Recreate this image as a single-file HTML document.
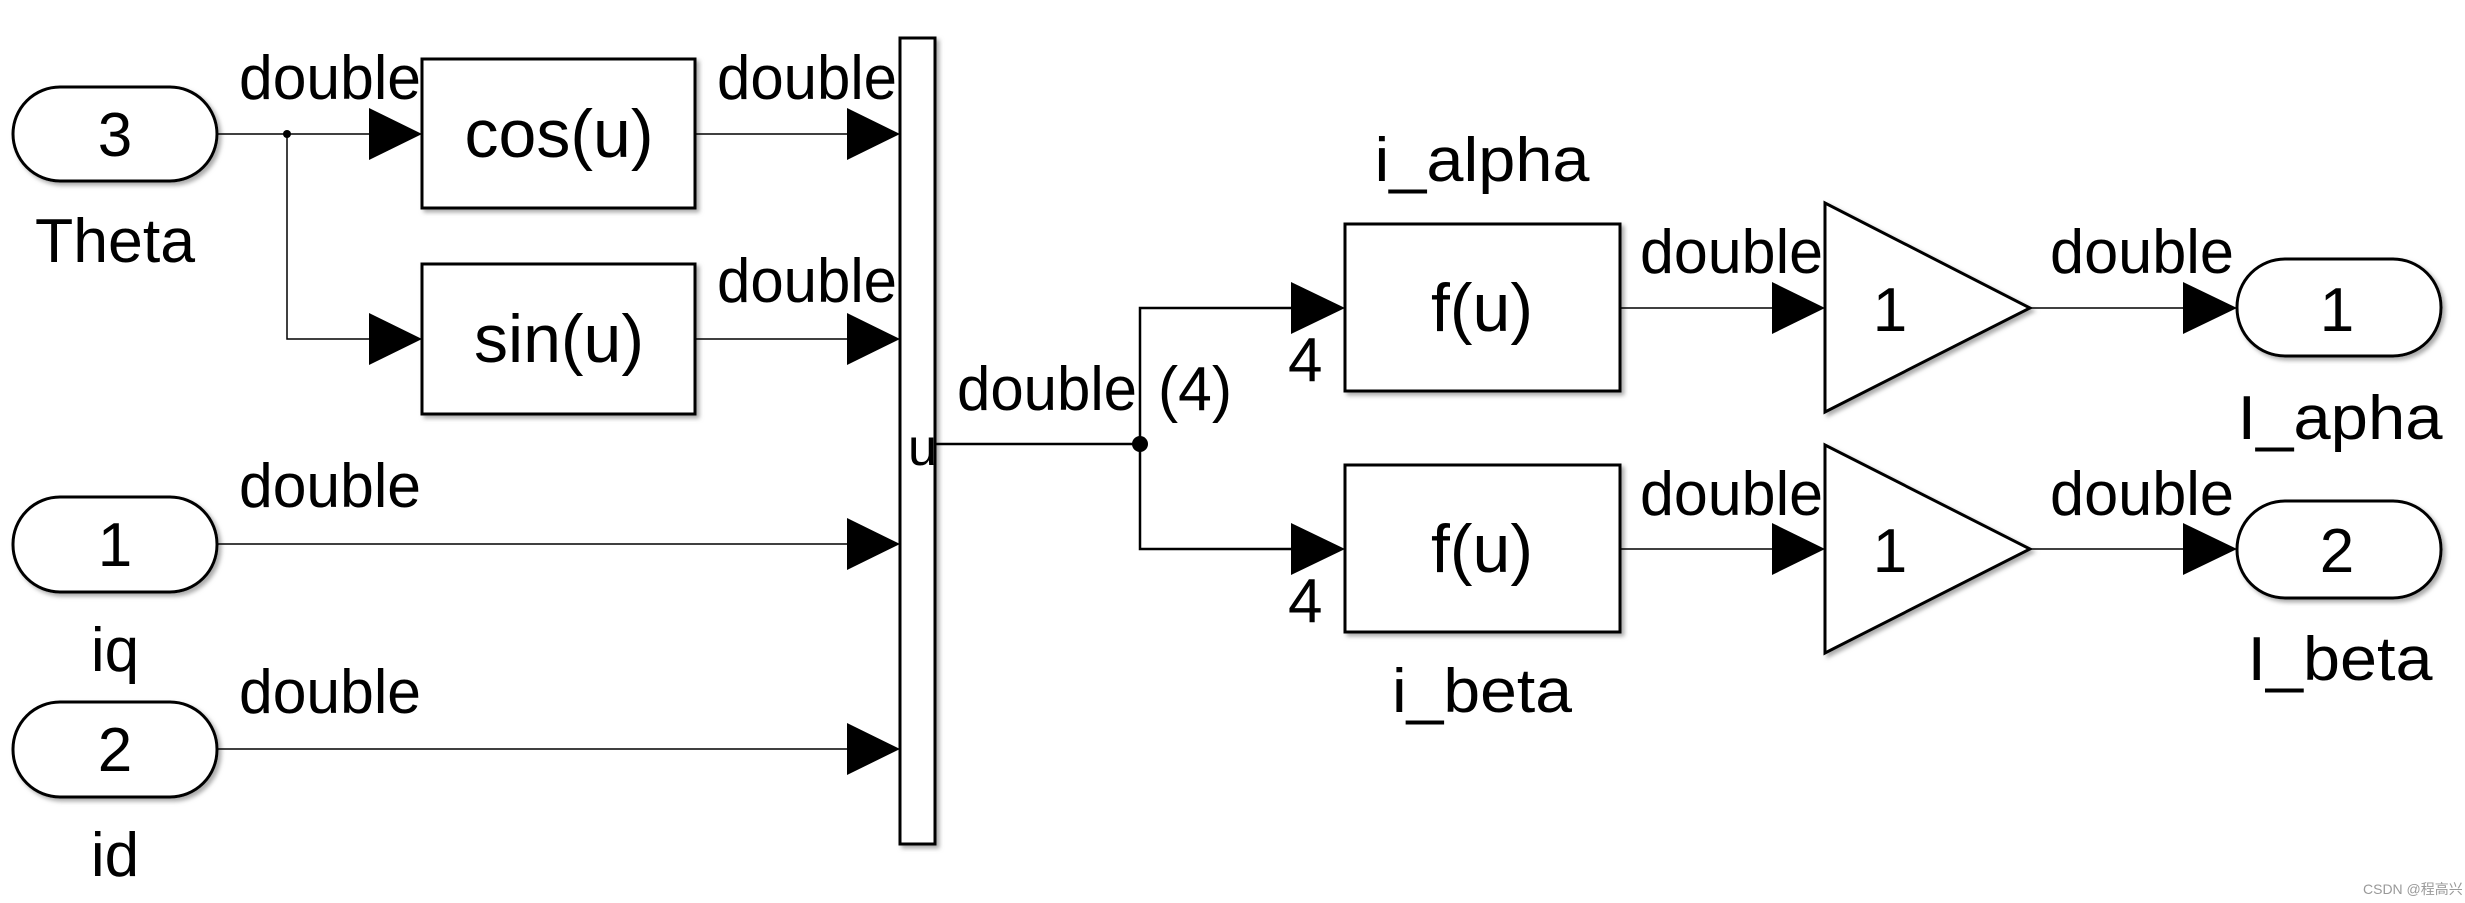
<!DOCTYPE html>
<html><head><meta charset="utf-8"><style>
html,body{margin:0;padding:0;background:#fff;}
svg{display:block;}
text{font-family:"Liberation Sans",Arial,sans-serif;fill:#000;}
</style></head><body>
<svg width="2465" height="903" viewBox="0 0 2465 903" xmlns="http://www.w3.org/2000/svg">
<defs>
<filter id="sh" x="-10%" y="-10%" width="130%" height="130%"><feDropShadow dx="3" dy="3" stdDeviation="2" flood-color="#888" flood-opacity="0.7"/></filter>
</defs>
<g fill="#fff" stroke="#000" stroke-width="3" filter="url(#sh)">
<rect x="13" y="87" width="204" height="94" rx="47"/>
<rect x="13" y="497" width="204" height="95" rx="47"/>
<rect x="13" y="702" width="204" height="95" rx="47"/>
<rect x="422" y="59" width="273" height="149"/>
<rect x="422" y="264" width="273" height="150"/>
<rect x="900" y="38" width="35" height="806"/>
<rect x="1345" y="224" width="275" height="167"/>
<rect x="1345" y="465" width="275" height="167"/>
<polygon points="1825,203 2030,308 1825,412"/>
<polygon points="1825,445 2030,549 1825,653"/>
<rect x="2237" y="259" width="204" height="97" rx="48"/>
<rect x="2237" y="501" width="204" height="97" rx="48"/>
</g>
<g stroke="#000" stroke-width="1.5" fill="none">
<line x1="217" y1="134" x2="370" y2="134"/>
<polyline points="287,134 287,339 370,339"/>
<line x1="695" y1="134" x2="848" y2="134"/>
<line x1="695" y1="339" x2="848" y2="339"/>
<line x1="217" y1="544" x2="848" y2="544"/>
<line x1="217" y1="749" x2="848" y2="749"/>
<line x1="1620" y1="308" x2="1773" y2="308"/>
<line x1="1620" y1="549" x2="1773" y2="549"/>
<line x1="2030" y1="308" x2="2184" y2="308"/>
<line x1="2030" y1="549" x2="2184" y2="549"/>
</g>
<g stroke="#000" stroke-width="2.5" fill="none">
<line x1="935" y1="444" x2="1140" y2="444"/>
<polyline points="1292,308 1140,308 1140,549 1292,549"/>
</g>
<circle cx="287" cy="134" r="4" fill="#000"/>
<circle cx="1140" cy="444" r="8" fill="#000"/>
<g fill="#000">
<polygon points="369,108 422,134 369,160"/>
<polygon points="369,313 422,339 369,365"/>
<polygon points="847,108 900,134 847,160"/>
<polygon points="847,313 900,339 847,365"/>
<polygon points="847,518 900,544 847,570"/>
<polygon points="847,723 900,749 847,775"/>
<polygon points="1291,282 1345,308 1291,334"/>
<polygon points="1291,523 1345,549 1291,575"/>
<polygon points="1772,282 1825,308 1772,334"/>
<polygon points="1772,523 1825,549 1772,575"/>
<polygon points="2183,282 2237,308 2183,334"/>
<polygon points="2183,523 2237,549 2183,575"/>
</g>
<g font-size="62" text-anchor="middle">
<text x="115" y="156">3</text>
<text x="115" y="566">1</text>
<text x="115" y="771">2</text>
<text x="115" y="262" textLength="160" lengthAdjust="spacingAndGlyphs">Theta</text>
<text x="115" y="671">iq</text>
<text x="115" y="876">id</text>
<text x="1482" y="181" textLength="215" lengthAdjust="spacingAndGlyphs">i_alpha</text>
<text x="1482" y="712" textLength="180" lengthAdjust="spacingAndGlyphs">i_beta</text>
<text x="1890" y="331">1</text>
<text x="1890" y="572">1</text>
<text x="2337" y="331">1</text>
<text x="2337" y="572">2</text>
<text x="2340" y="439" textLength="205" lengthAdjust="spacingAndGlyphs">I_apha</text>
<text x="2340" y="680" textLength="185" lengthAdjust="spacingAndGlyphs">I_beta</text>
</g>
<g font-size="68" text-anchor="middle">
<text x="559" y="157">cos(u)</text>
<text x="559" y="362">sin(u)</text>
<text x="1482" y="331">f(u)</text>
<text x="1482" y="572">f(u)</text>
</g>
<g font-size="62">
<text x="239" y="99" textLength="182" lengthAdjust="spacingAndGlyphs">double</text>
<text x="717" y="99" textLength="180" lengthAdjust="spacingAndGlyphs">double</text>
<text x="717" y="302" textLength="180" lengthAdjust="spacingAndGlyphs">double</text>
<text x="239" y="507" textLength="182" lengthAdjust="spacingAndGlyphs">double</text>
<text x="239" y="713" textLength="182" lengthAdjust="spacingAndGlyphs">double</text>
<text x="957" y="410" textLength="180" lengthAdjust="spacingAndGlyphs">double</text>
<text x="1158" y="410" textLength="74" lengthAdjust="spacingAndGlyphs">(4)</text>
<text x="1640" y="273" textLength="183" lengthAdjust="spacingAndGlyphs">double</text>
<text x="1640" y="515" textLength="183" lengthAdjust="spacingAndGlyphs">double</text>
<text x="2050" y="273" textLength="184" lengthAdjust="spacingAndGlyphs">double</text>
<text x="2050" y="515" textLength="184" lengthAdjust="spacingAndGlyphs">double</text>
<text x="1288" y="381">4</text>
<text x="1288" y="622">4</text>
<text x="908" y="465" font-size="52">u</text>
</g>
<text x="2363" y="894" font-size="14" style="fill:#999">CSDN @程高兴</text>
</svg>
</body></html>
